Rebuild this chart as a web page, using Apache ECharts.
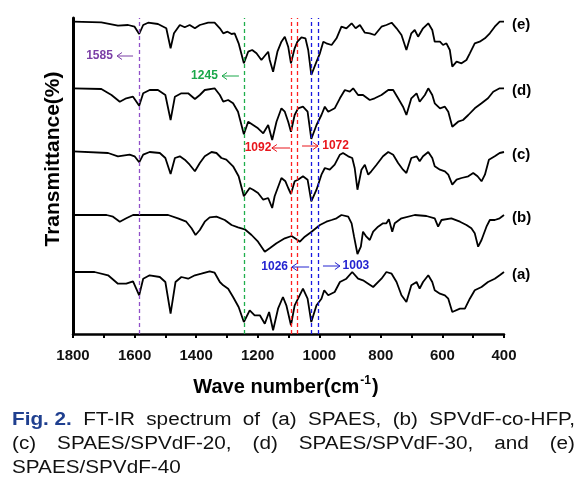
<!DOCTYPE html>
<html><head><meta charset="utf-8">
<script src="https://cdn.jsdelivr.net/npm/echarts@6/dist/echarts.min.js"></script>
<style>html,body{margin:0;padding:0;background:#fff}#c{width:583px;height:487px}</style>
</head><body><div id="c"></div>
<script>
// Wavenumber (cm-1), transmittance (arbitrary stacked units)
const specA = [[1800,62],[1730,62],[1686,58.7],[1654,50.3],[1627,50.3],[1605,52.7],[1585,38.7],[1572,55.3],[1551,58.7],[1518,57],[1500,52],[1483,20.3],[1467,52],[1448,57],[1426,55.3],[1404,58.7],[1383,60.3],[1356,62.7],[1340,61.3],[1323,52],[1312,48.7],[1296,45.3],[1280,37],[1262,27],[1245,12],[1226,23.7],[1210,18.7],[1193,18.7],[1177,10.3],[1163,22],[1150,3.7],[1134,25.3],[1118,37],[1107,28.7],[1092,8.7],[1080,28.7],[1069,35.3],[1053,45.3],[1038,35.3],[1026,12],[1009,28.7],[993,35.3],[984,43.7],[971,38.7],[950,42],[933,52],[912,55.3],[893,62],[874,55.3],[858,53.7],[841,50.3],[825,47],[798,55.3],[782,62],[765,60.3],[749,52],[733,38.7],[717,32],[701,48.7],[684,52],[674,45.3],[663,52],[646,58.7],[633,52],[625,43.7],[608,40.3],[592,38.7],[581,35.3],[568,22],[543,25.3],[527,25.3],[511,35.3],[495,43.7],[473,47],[452,52],[430,55.3],[414,58.7],[400,62]];
const specB = [[1800,119],[1691,119],[1670,117.3],[1648,112.3],[1627,115.7],[1605,119],[1491,119],[1459,115.7],[1432,112.3],[1415,105.7],[1402,99],[1388,104],[1372,112.3],[1356,116.7],[1334,117.3],[1307,114],[1285,109],[1264,106.7],[1242,104.7],[1220,99],[1199,92.3],[1177,82.3],[1161,85.7],[1139,90.7],[1112,95.7],[1090,98],[1074,94.7],[1063,92.3],[1047,97.3],[1025,102.3],[998,109],[977,112.3],[960,114],[944,115.7],[928,119],[906,117.3],[895,110.7],[887,97.3],[876,80],[865,87.3],[858,102.3],[847,97.3],[836,94],[825,102.3],[809,107.3],[793,110.7],[782,110.7],[774,114.7],[763,102.3],[755,110.7],[733,115.7],[690,119],[652,118],[625,115.7],[614,107.3],[603,114],[571,115.7],[543,112.3],[522,109],[506,105.7],[495,100.7],[484,87.3],[473,94],[457,107.3],[446,114],[430,114],[414,115.7],[400,119]];
const specC = [[1800,182.7],[1686,181],[1654,177.7],[1616,179.3],[1600,177.7],[1585,171.7],[1572,179.3],[1551,182],[1518,181],[1500,176],[1483,160],[1469,176],[1453,177.7],[1437,174.3],[1421,169.3],[1404,162.7],[1388,171],[1372,177.7],[1350,182],[1334,181],[1318,176],[1302,174.3],[1280,167.7],[1262,157.7],[1245,137.7],[1226,146],[1215,144.3],[1199,141],[1182,134.3],[1166,136],[1153,126],[1145,137.7],[1123,156],[1110,152.7],[1101,146],[1092,140],[1080,152.7],[1069,154.3],[1053,157.7],[1038,154.3],[1026,132.7],[1009,144.3],[993,159.3],[982,166],[966,164.3],[950,169.3],[933,179.3],[923,181],[906,177.7],[893,176],[885,166],[876,144.3],[863,164.3],[852,169.3],[841,159.3],[831,162.7],[814,169.3],[793,177.7],[776,182],[760,179.3],[744,171],[728,164.3],[717,161],[701,176],[684,177.7],[674,172.7],[663,177.7],[646,182],[633,176],[625,167.7],[608,164.3],[592,162.7],[581,159.3],[568,149.3],[554,154.3],[538,156],[516,157.7],[500,161],[486,157.7],[473,152.7],[462,159.3],[449,174.3],[430,177.7],[414,181],[400,182]];
const specD = [[1800,245.7],[1708,245],[1675,239],[1648,232.3],[1627,235.7],[1605,237.3],[1585,228.3],[1572,240.7],[1551,244],[1524,244],[1500,239],[1483,214],[1469,237.3],[1448,240.7],[1426,240.7],[1404,235],[1388,239],[1372,244],[1340,245.7],[1323,239],[1312,232.3],[1296,234],[1280,230.7],[1264,222.3],[1245,199.7],[1231,212.3],[1215,209],[1199,205.7],[1182,200.7],[1166,209],[1153,194],[1139,212.3],[1123,225.7],[1112,222.3],[1101,212.3],[1092,202.3],[1080,219],[1069,225.7],[1053,227.3],[1038,222.3],[1026,195],[1009,209],[993,219],[982,227.3],[971,222.3],[950,225.7],[933,235.7],[917,244],[901,242.3],[890,245.7],[874,239],[858,239],[836,234],[820,235.7],[798,239],[776,244],[760,244],[744,235.7],[728,227.3],[717,219],[701,235.7],[684,240.7],[674,232.3],[657,239],[646,245.7],[633,239],[625,230.7],[608,225.7],[592,227.3],[581,222.3],[568,207.3],[549,212.3],[533,214],[516,219],[495,225.7],[473,230.7],[452,235.7],[435,242.3],[414,245.7],[400,245.7]];
const specE = [[1800,312.3],[1708,311.7],[1654,308.3],[1621,309],[1600,307.3],[1585,300],[1572,309],[1556,311.3],[1524,310],[1497,305.7],[1483,285.7],[1472,300.7],[1453,309],[1437,306.7],[1421,309],[1404,305.7],[1388,309],[1361,311.3],[1340,311.3],[1323,305.7],[1312,300.7],[1298,302.3],[1285,300],[1275,300.7],[1262,290.7],[1245,270.7],[1231,282.3],[1218,284],[1204,280.7],[1188,274],[1166,282.3],[1161,274],[1150,262.3],[1136,282.3],[1123,292.3],[1112,297.3],[1101,287.3],[1092,270.7],[1080,285.7],[1071,292.3],[1058,296.7],[1045,295.7],[1036,284],[1026,259],[1009,272.3],[998,280.7],[987,292.3],[977,290.7],[960,289],[944,295.7],[928,307.3],[912,305.7],[895,310.7],[882,305.7],[868,309],[852,301.3],[836,300.7],[820,299],[798,307.3],[782,309],[765,311.3],[749,305.7],[733,299],[717,284],[701,300.7],[690,304],[679,297.3],[663,305.7],[646,310.7],[633,304],[625,292.3],[608,292.3],[598,289],[587,290.7],[576,284],[568,267.3],[554,272.3],[538,270.7],[522,274],[511,280.7],[495,290.7],[479,292.3],[462,295.7],[446,300.7],[430,307.3],[414,312.3],[400,312.3]];

const seriesLabels = ['(a)', '(b)', '(c)', '(d)', '(e)'];
const xTickLabels = [1800, 1600, 1400, 1200, 1000, 800, 600, 400];
const peakWN = [1585, 1245, 1092, 1072, 1026, 1003];
const peakColors = ['#9050c8', '#1fae4c', '#ff2020', '#ff2020', '#1a1ae0', '#1a1ae0'];
// annotation: label, colour, text position (wn, T), arrow from/to wn
const annLabels = ['1585', '1245', '1092', '1072', '1026', '1003'];
const annColors = ['#7b3fa6', '#1aa84a', '#e8161c', '#e8161c', '#2424d0', '#2424d0'];
const annTextWN = [1714, 1373, 1199, 947, 1145, 881];
const annT = [278, 258, 186, 188, 67, 68];
const annFrom = [1605, 1261, 1095, 1056, 1033, 988];
const annTo = [1657, 1316, 1154, 1004, 1089, 933];
const xTitle = 'Wave number(cm';
const yTitle = 'Transmittance(%)';
const captionLine1 = [['Fig. 2.', true], ['FT-IR', false], ['spectrum', false], ['of', false], ['(a)', false], ['SPAES,', false], ['(b)', false], ['SPVdF-co-HFP,', false]];
const captionLine2 = ['(c)', 'SPAES/SPVdF-20,', '(d)', 'SPAES/SPVdF-30,', 'and', '(e)'];
const captionLine3 = ['SPAES/SPVdF-40'];

const FONT = '"Liberation Sans", Arial, sans-serif';
const spectra = [specA, specB, specC, specD, specE];
const chart = echarts.init(document.getElementById('c'), null, {renderer: 'canvas'});

const option = {
  animation: false,
  backgroundColor: '#fff',
  grid: {left: 73, right: 79, top: 18, bottom: 153},
  xAxis: {
    type: 'value', min: 400, max: 1800, interval: 100, inverse: true,
    axisLine: {lineStyle: {color: '#000', width: 2.5}},
    axisTick: {show: true, length: 4, lineStyle: {color: '#000', width: 2}},
    axisLabel: {margin: 14, color: '#111', fontWeight: 'bold', fontSize: 15, fontFamily: FONT,
      formatter: v => xTickLabels.includes(v) ? String(v) : ''},
    splitLine: {show: false}
  },
  yAxis: {
    type: 'value', min: 0, max: 316,
    axisLine: {show: true, lineStyle: {color: '#000', width: 3}},
    axisTick: {show: false}, axisLabel: {show: false}, splitLine: {show: false}
  },
  series: spectra.map((d, i) => {
    const s = {type: 'line', data: d, symbol: 'none', showSymbol: false,
      lineStyle: {color: '#000', width: 1.8}, z: 3};
    if (i === 0) {
      s.markLine = {silent: true, symbol: ['none', 'none'], label: {show: false}, z: 5,
        data: peakWN.map((w, k) => ({xAxis: w, lineStyle: {color: peakColors[k], type: [4, 3], width: 1.3, opacity: 1}}))};
    }
    return s;
  })
};
chart.setOption(option);

function px(wn, t) { return chart.convertToPixel({gridIndex: 0}, [wn, t]); }
const g = [];
// series labels at the right end of each trace
spectra.forEach((d, i) => {
  const last = d[d.length - 1];
  const p = px(last[0], last[1]);
  g.push({type: 'text', x: p[0] + 8, y: p[1] + 3, z: 10,
    style: {text: seriesLabels[i], font: 'bold 15px ' + FONT, fill: '#000', align: 'left', verticalAlign: 'middle'}});
});
// peak annotations
annLabels.forEach((lab, k) => {
  const tp = px(annTextWN[k], annT[k]);
  g.push({type: 'text', x: tp[0], y: tp[1], z: 10,
    style: {text: lab, font: 'bold 12px ' + FONT, fill: annColors[k], align: 'center', verticalAlign: 'middle'}});
  const p1 = px(annFrom[k], annT[k]), p2 = px(annTo[k], annT[k]);
  const dir = Math.sign(p1[0] - p2[0]);
  g.push({type: 'line', z: 10, shape: {x1: p1[0], y1: p1[1], x2: p2[0], y2: p2[1]},
    style: {stroke: annColors[k], lineWidth: 1}});
  g.push({type: 'polyline', z: 10, shape: {points: [[p2[0] + dir * 5, p2[1] - 3.5], [p2[0], p2[1]], [p2[0] + dir * 5, p2[1] + 3.5]]},
    style: {stroke: annColors[k], lineWidth: 1, fill: null}});
});
// axis titles
g.push({type: 'text', x: 53, y: 159, rotation: Math.PI / 2, z: 10,
  style: {text: yTitle, font: 'bold 21px ' + FONT, fill: '#000', align: 'center', verticalAlign: 'middle'}});
g.push({type: 'text', x: 286, y: 387, z: 10,
  style: {text: '{a|' + xTitle + '}{s|-1}{a|)}', align: 'center', verticalAlign: 'middle',
    rich: {a: {fontFamily: FONT, fontWeight: 'bold', fontSize: 20, lineHeight: 24, fill: '#000'},
           s: {fontFamily: FONT, fontWeight: 'bold', fontSize: 12, lineHeight: 24, verticalAlign: 'top', fill: '#000', padding: [0, 1, 0, 1]}}}});
// caption with justified lines
const ctx = document.createElement('canvas').getContext('2d');
const SX = 1.15, CL = 12, CR = 575;
function tw(t, f) { ctx.font = f; return ctx.measureText(t).width * SX; }
const fReg = '18px ' + FONT, fBold = 'bold 18px ' + FONT;
function placeLine(tokens, y, justify) {
  const ws = tokens.map(t => tw(t[0], t[1] ? fBold : fReg));
  const total = ws.reduce((a, b) => a + b, 0);
  const gap = justify && tokens.length > 1 ? (CR - CL - total) / (tokens.length - 1) : tw(' ', fReg);
  let x = CL;
  tokens.forEach((t, i) => {
    g.push({type: 'text', x: x, y: y, scaleX: SX, z: 10,
      style: {text: t[0], font: t[1] ? fBold : fReg, fill: t[1] ? '#1f3f8f' : '#111', align: 'left', verticalAlign: 'middle'}});
    x += ws[i] + gap;
  });
}
placeLine(captionLine1, 420, true);
placeLine(captionLine2.map(t => [t, false]), 444, true);
placeLine(captionLine3.map(t => [t, false]), 468, false);
chart.setOption({graphic: g});
</script></body></html>
